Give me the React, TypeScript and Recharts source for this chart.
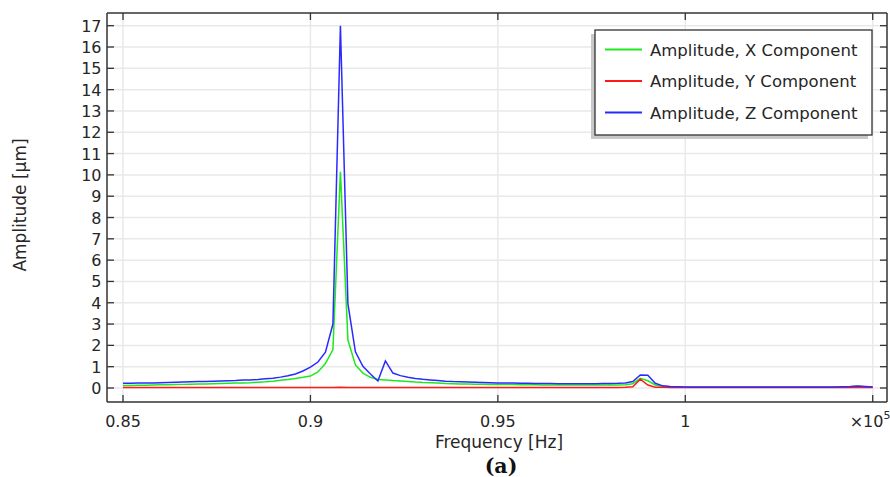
import React from 'react';
import { LineChart, Line, XAxis, YAxis, CartesianGrid } from 'recharts';

// frequency in units of 1e5 Hz
const frequency = [
  0.850, 0.852, 0.854, 0.856, 0.858, 0.860, 0.862, 0.864, 0.866, 0.868,
  0.870, 0.872, 0.874, 0.876, 0.878, 0.880, 0.882, 0.884, 0.886, 0.888,
  0.890, 0.892, 0.894, 0.896, 0.898, 0.900, 0.902, 0.904, 0.906, 0.908,
  0.910, 0.912, 0.914, 0.916, 0.918, 0.920, 0.922, 0.924, 0.926, 0.928,
  0.930, 0.932, 0.934, 0.936, 0.938, 0.940, 0.942, 0.944, 0.946, 0.948,
  0.950, 0.952, 0.954, 0.956, 0.958, 0.960, 0.962, 0.964, 0.966, 0.968,
  0.970, 0.972, 0.974, 0.976, 0.978, 0.980, 0.982, 0.984, 0.986, 0.988,
  0.990, 0.992, 0.994, 0.996, 0.998, 1.000, 1.002, 1.004, 1.006, 1.008,
  1.010, 1.012, 1.014, 1.016, 1.018, 1.020, 1.022, 1.024, 1.026, 1.028,
  1.030, 1.032, 1.034, 1.036, 1.038, 1.040, 1.042, 1.044, 1.046, 1.048,
  1.050,
];

const amplitudeX = [
  0.12, 0.12, 0.13, 0.13, 0.14, 0.15, 0.15, 0.16, 0.17, 0.18,
  0.19, 0.19, 0.20, 0.21, 0.22, 0.23, 0.24, 0.25, 0.27, 0.29,
  0.32, 0.36, 0.40, 0.45, 0.50, 0.56, 0.75, 1.15, 1.80, 10.15,
  2.25, 1.08, 0.70, 0.50, 0.40, 0.38, 0.35, 0.33, 0.31, 0.28,
  0.26, 0.25, 0.23, 0.21, 0.20, 0.19, 0.19, 0.18, 0.18, 0.17,
  0.17, 0.16, 0.16, 0.15, 0.15, 0.15, 0.14, 0.14, 0.14, 0.14,
  0.14, 0.14, 0.14, 0.14, 0.14, 0.14, 0.14, 0.15, 0.20, 0.45,
  0.34, 0.14, 0.07, 0.05, 0.04, 0.04, 0.04, 0.04, 0.04, 0.04,
  0.04, 0.04, 0.04, 0.04, 0.04, 0.04, 0.04, 0.04, 0.04, 0.04,
  0.04, 0.04, 0.04, 0.04, 0.04, 0.04, 0.05, 0.06, 0.08, 0.06,
  0.04,
];

const amplitudeY = [
  0.02, 0.02, 0.02, 0.02, 0.02, 0.02, 0.02, 0.02, 0.02, 0.02,
  0.02, 0.02, 0.02, 0.02, 0.02, 0.02, 0.02, 0.02, 0.02, 0.02,
  0.02, 0.02, 0.02, 0.02, 0.02, 0.02, 0.02, 0.02, 0.02, 0.03,
  0.02, 0.02, 0.02, 0.02, 0.02, 0.02, 0.02, 0.02, 0.02, 0.02,
  0.02, 0.02, 0.02, 0.02, 0.02, 0.02, 0.02, 0.02, 0.02, 0.02,
  0.02, 0.02, 0.02, 0.02, 0.02, 0.02, 0.02, 0.02, 0.02, 0.02,
  0.02, 0.02, 0.02, 0.02, 0.02, 0.02, 0.02, 0.03, 0.06, 0.41,
  0.14, 0.04, 0.03, 0.02, 0.02, 0.02, 0.02, 0.02, 0.02, 0.02,
  0.02, 0.02, 0.02, 0.02, 0.02, 0.02, 0.02, 0.02, 0.02, 0.02,
  0.02, 0.02, 0.02, 0.02, 0.02, 0.02, 0.02, 0.02, 0.02, 0.02,
  0.02,
];

const amplitudeZ = [
  0.22, 0.22, 0.23, 0.23, 0.24, 0.25, 0.26, 0.27, 0.28, 0.29,
  0.30, 0.31, 0.32, 0.33, 0.34, 0.35, 0.37, 0.38, 0.40, 0.43,
  0.46, 0.51, 0.57, 0.66, 0.80, 0.98, 1.22, 1.68, 3.00, 17.0,
  3.95, 1.70, 1.02, 0.66, 0.33, 1.27, 0.70, 0.58, 0.50, 0.45,
  0.41, 0.38, 0.35, 0.32, 0.30, 0.29, 0.28, 0.27, 0.26, 0.25,
  0.24, 0.23, 0.23, 0.22, 0.22, 0.21, 0.21, 0.21, 0.20, 0.20,
  0.20, 0.20, 0.20, 0.20, 0.21, 0.21, 0.22, 0.24, 0.30, 0.61,
  0.60, 0.22, 0.10, 0.07, 0.06, 0.05, 0.05, 0.05, 0.05, 0.05,
  0.05, 0.05, 0.05, 0.05, 0.05, 0.05, 0.05, 0.05, 0.05, 0.05,
  0.05, 0.05, 0.05, 0.05, 0.05, 0.05, 0.06, 0.07, 0.09, 0.07,
  0.05,
];

const xTicks = [0.85, 0.9, 0.95, 1, 1.05];
const xTickLabels = ['0.85', '0.9', '0.95', '1', ''];
const yTicks = [0, 1, 2, 3, 4, 5, 6, 7, 8, 9, 10, 11, 12, 13, 14, 15, 16, 17];

const seriesNames = ['Amplitude, X Component', 'Amplitude, Y Component', 'Amplitude, Z Component'];
const seriesColors = ['#1ee81e', '#ff1a1a', '#2a2aff'];

const data = frequency.map((f, i) => ({
  f,
  x: amplitudeX[i],
  y: amplitudeY[i],
  z: amplitudeZ[i],
}));

const FONT = '"DejaVu Sans", sans-serif';
const TEXT = '#262626';
const AXIS = '#333';
const TICK_LEN = 7;

const BottomTick = (props: any) => {
  const { x, y, index } = props;
  const label = xTickLabels[index] ?? '';
  return (
    <g>
      <line x1={x} y1={y} x2={x} y2={y - TICK_LEN} stroke={AXIS} strokeWidth={1.3} />
      {label !== '' ? (
        <text x={x} y={y + 24.5} textAnchor="middle" fontSize={16} fontFamily={FONT} fill={TEXT}>
          {label}
        </text>
      ) : (
        <text x={x - 23} y={y + 24.5} textAnchor="start" fontSize={16} fontFamily={FONT} fill={TEXT}>
          ×10
          <tspan dy={-8} fontSize={11}>5</tspan>
        </text>
      )}
    </g>
  );
};

const TopTick = (props: any) => {
  const { x, y } = props;
  return <line x1={x} y1={y} x2={x} y2={y + TICK_LEN} stroke={AXIS} strokeWidth={1.3} />;
};

const LeftTick = (props: any) => {
  const { x, y, payload } = props;
  return (
    <g>
      <line x1={x} y1={y} x2={x + TICK_LEN} y2={y} stroke={AXIS} strokeWidth={1.3} />
      <text x={x - 5.5} y={y + 6} textAnchor="end" fontSize={16} fontFamily={FONT} fill={TEXT}>
        {payload.value}
      </text>
    </g>
  );
};

const RightTick = (props: any) => {
  const { x, y } = props;
  return <line x1={x} y1={y} x2={x - TICK_LEN} y2={y} stroke={AXIS} strokeWidth={1.3} />;
};

const xDomain = [0.84573, 1.05381];
const yDomain = [-0.657, 17.596];

export default function App() {
  return (
    <div style={{ position: 'absolute', left: 0, top: 0, width: 890, height: 477, background: '#fff' }}>
      <LineChart width={890} height={477} data={data} margin={{ top: 12, right: 2, bottom: 45, left: 47 }}>
        <CartesianGrid stroke="#e9e9e9" strokeWidth={1.5} horizontalValues={yTicks} verticalValues={xTicks} />
        <XAxis
          dataKey="f"
          type="number"
          domain={xDomain}
          allowDataOverflow
          ticks={xTicks}
          interval={0}
          height={30}
          tickSize={0}
          tickMargin={0}
          tickLine={false}
          tick={<BottomTick />}
          axisLine={{ stroke: AXIS, strokeWidth: 1.5 }}
        />
        <XAxis
          xAxisId="top"
          orientation="top"
          dataKey="f"
          type="number"
          domain={xDomain}
          allowDataOverflow
          ticks={xTicks}
          interval={0}
          height={1}
          tickSize={0}
          tickMargin={0}
          tickLine={false}
          tick={<TopTick />}
          axisLine={{ stroke: AXIS, strokeWidth: 1.5 }}
        />
        <YAxis
          type="number"
          domain={yDomain}
          allowDataOverflow
          ticks={yTicks}
          interval={0}
          width={60}
          tickSize={0}
          tickMargin={0}
          tickLine={false}
          tick={<LeftTick />}
          axisLine={{ stroke: AXIS, strokeWidth: 1.5 }}
        />
        <YAxis
          yAxisId="right"
          orientation="right"
          type="number"
          domain={yDomain}
          allowDataOverflow
          ticks={yTicks}
          interval={0}
          width={1}
          tickSize={0}
          tickMargin={0}
          tickLine={false}
          tick={<RightTick />}
          axisLine={{ stroke: AXIS, strokeWidth: 1.5 }}
        />
        <Line type="linear" dataKey="x" stroke={seriesColors[0]} strokeWidth={1.5} dot={false} isAnimationActive={false} />
        <Line type="linear" dataKey="y" stroke={seriesColors[1]} strokeWidth={1.5} dot={false} isAnimationActive={false} />
        <Line type="linear" dataKey="z" stroke={seriesColors[2]} strokeWidth={1.5} dot={false} isAnimationActive={false} />
      </LineChart>
      <svg width={890} height={477} style={{ position: 'absolute', left: 0, top: 0, pointerEvents: 'none' }}>
        {/* legend */}
        <rect x={591} y={34} width={277} height={105} fill="#c8c8c8" />
        <rect x={595} y={30} width={277} height={105} fill="#fff" stroke={AXIS} strokeWidth={1.3} />
        {seriesNames.map((name, i) => (
          <g key={name}>
            <line x1={605} y1={49.5 + i * 31.5} x2={642} y2={49.5 + i * 31.5} stroke={seriesColors[i]} strokeWidth={2} />
            <text x={650} y={55.5 + i * 31.5} fontSize={16.5} fontFamily={FONT} fill={TEXT}>
              {name}
            </text>
          </g>
        ))}
        {/* axis titles */}
        <text x={499} y={448} textAnchor="middle" fontSize={17} fontFamily={FONT} fill={TEXT}>
          Frequency [Hz]
        </text>
        <text
          transform="translate(25.5, 205) rotate(-90)"
          textAnchor="middle"
          fontSize={17}
          fontFamily={FONT}
          fill={TEXT}
        >
          Amplitude [µm]
        </text>
        <text x={501} y={473} textAnchor="middle" fontSize={20.5} fontWeight="bold" fontFamily='"DejaVu Serif", serif' fill="#111">
          (a)
        </text>
      </svg>
    </div>
  );
}
